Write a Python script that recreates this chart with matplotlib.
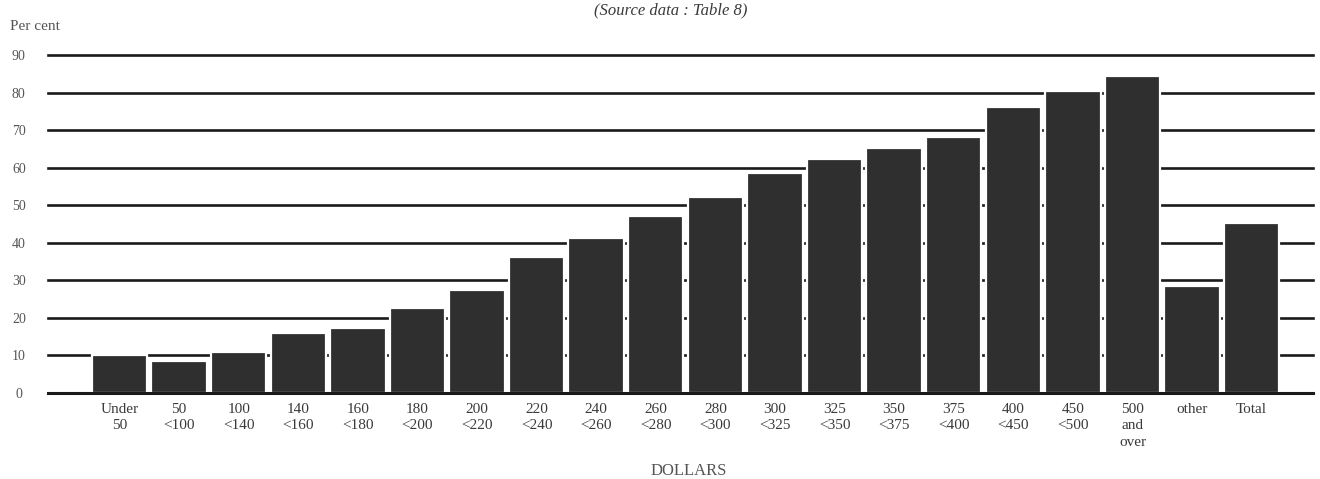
import matplotlib
matplotlib.use("Agg")
import matplotlib.pyplot as plt

categories = ["Under\n50", "50\n<100", "100\n<140", "140\n<160", "160\n<180",
              "180\n<200", "200\n<220", "220\n<240", "240\n<260", "260\n<280",
              "280\n<300", "300\n<325", "325\n<350", "350\n<375", "375\n<400",
              "400\n<450", "450\n<500", "500\nand\nover", "other", "Total"]
values = [10.1, 8.4, 11.0, 16.1, 17.4, 22.5, 27.5, 36.1, 41.3, 47.2,
          52.2, 58.5, 62.4, 65.3, 68.2, 76.1, 80.3, 84.3, 28.4, 45.2]
yticks = [0, 10, 20, 30, 40, 50, 60, 70, 80, 90]

plt.rcParams['font.family'] = ['Liberation Serif', 'DejaVu Serif']
text_color = '#3a3a3a'

fig = plt.figure(figsize=(13.2, 4.79), dpi=100)
ax = fig.add_axes([48/1320, (479-393)/479, (1313-48)/1320, 91*3.756/479])

x = list(range(len(categories)))
ax.bar(x, values, width=0.93, color='#2f2f2f', edgecolor='white', linewidth=1.6, zorder=3)

for t in yticks:
    ax.axhline(t, color='#1a1a1a', lw=1.9, zorder=1, clip_on=False)
ax.axhline(0, color='#1a1a1a', lw=2.2, zorder=4, clip_on=False)

ax.set_xlim(-1.2, 20.03)
ax.set_ylim(0, 91)
for s in ax.spines.values():
    s.set_visible(False)

ax.set_yticks(yticks)
ax.set_yticklabels([str(t) for t in yticks], fontsize=10, color='#555555')
ax.tick_params(axis='y', length=0, pad=21)
for lab in ax.get_yticklabels():
    lab.set_horizontalalignment('center')

ax.set_xticks(x)
ax.set_xticklabels(categories, fontsize=11, color=text_color, linespacing=1.35, va='top')
ax.tick_params(axis='x', length=0, pad=7)

fig.text(10/1320, 1 - 26/479, "Per cent", fontsize=11, color='#555555', va='center', ha='left')
fig.text(671/1320, 1 - 10/479, "(Source data : Table 8)", fontsize=12, style='italic',
         color=text_color, va='center', ha='center')
fig.text(689/1320, 1 - 471/479, "DOLLARS", fontsize=12, color='#555555', va='center', ha='center')

fig.savefig("out.png", dpi=100, facecolor='white')
